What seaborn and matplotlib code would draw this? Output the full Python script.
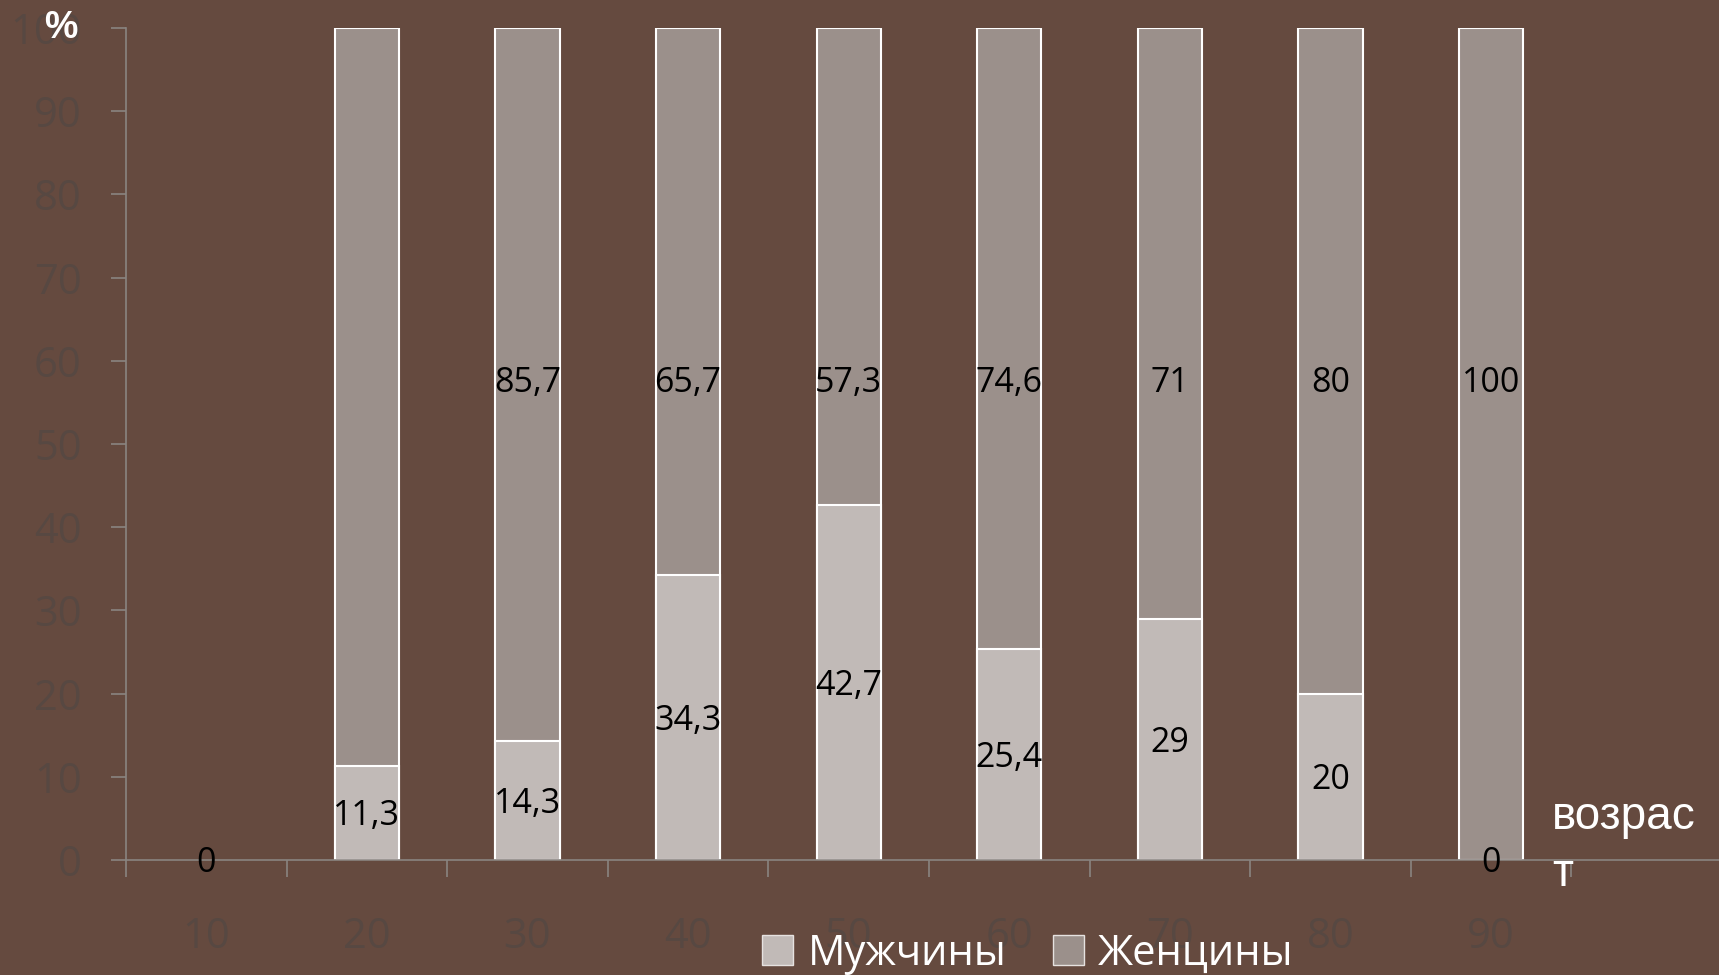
import seaborn as sns
import matplotlib.pyplot as plt
import pandas as pd
from matplotlib.patches import Patch

# Data
ages = ['10', '20', '30', '40', '50', '60', '70', '80', '90']
men = [0, 11.3, 14.3, 34.3, 42.7, 25.4, 29, 20, 0]
women = [0, 88.7, 85.7, 65.7, 57.3, 74.6, 71, 80, 100]
men_labels = ['0', '11,3', '14,3', '34,3', '42,7', '25,4', '29', '20', '0']
women_labels = ['', '', '85,7', '65,7', '57,3', '74,6', '71', '80', '100']
y_ticks = [0, 10, 20, 30, 40, 50, 60, 70, 80, 90, 100]

dataset = pd.DataFrame({'Age': ages, 'Men': men, 'Women': women})
dataset['Total'] = dataset['Men'] + dataset['Women']

bg = '#654a3f'
men_color = '#c1bab7'
women_color = '#9b908b'
dim_text = '#574842'

sns.set_style('white')
plt.rcParams['font.family'] = ['Open Sans', 'DejaVu Sans']

fig = plt.figure(figsize=(17.19, 9.75), dpi=100, facecolor=bg)
ax = fig.add_axes([126 / 1719, 1 - 860 / 975, 1 - 126 / 1719, (860 - 28) / 975])
ax.set_facecolor(bg)

# Stacked bars: women drawn as the total, men drawn over it
sns.barplot(x='Age', y='Total', data=dataset, color=women_color, saturation=1,
            width=0.4, edgecolor='white', linewidth=1.5, ax=ax)
sns.barplot(x='Age', y='Men', data=dataset, color=men_color, saturation=1,
            width=0.4, edgecolor='white', linewidth=1.5, ax=ax)
for p in ax.patches:
    if p.get_height() == 0:
        p.set_visible(False)

# Value labels
for i in range(len(ages)):
    ax.text(i, men[i] / 2 - 0.4, men_labels[i], ha='center', va='center',
            fontsize=24.5, color='black')
    if women_labels[i]:
        ax.text(i, 57.3, women_labels[i], ha='center', va='center',
                fontsize=24.5, color='black')

ax.set_xlim(-0.5, 9.42)
ax.set_ylim(0, 100)
ax.set_yticks(y_ticks)
ax.set_xlabel('')
ax.set_ylabel('')

for s in ['top', 'right']:
    ax.spines[s].set_visible(False)
for s in ['left', 'bottom']:
    ax.spines[s].set_color('#8a8480')
    ax.spines[s].set_linewidth(1.2)

ax.tick_params(axis='y', direction='out', length=11, width=1.2, color='#8a8480',
               labelsize=30, labelcolor=dim_text, pad=21, left=True)
ax.tick_params(axis='x', which='major', length=0, labelsize=30,
               labelcolor=dim_text, pad=40)
ax.set_xticks([i + 0.5 for i in range(-1, 9)], minor=True)
ax.tick_params(axis='x', which='minor', direction='out', length=12, width=1.2,
               color='#8a8480', bottom=True)

# Axis titles
fig.text(44 / 1719, 1 - 28 / 975, '%', color='white', fontsize=27,
         fontweight='bold', family='Liberation Sans', va='center', ha='left')
fig.text(1552 / 1719, 1 - 817 / 975, 'возрас', color='white', fontsize=33,
         family='Liberation Sans', va='center', ha='left')
fig.text(1552 / 1719, 1 - 874 / 975, 'т', color='white', fontsize=33,
         family='Liberation Sans', va='center', ha='left')

# Legend
handles = [Patch(facecolor=men_color, edgecolor='#e6e2e0', label='Мужчины'),
           Patch(facecolor=women_color, edgecolor='#e6e2e0', label='Женцины')]
leg = fig.legend(handles=handles, loc='center', bbox_to_anchor=(1028 / 1719, 0.022),
                 ncol=2, frameon=False, fontsize=30, handlelength=0.75,
                 handleheight=0.75, handletextpad=0.35, columnspacing=1.1,
                 labelcolor='white', borderpad=0)

plt.savefig('out.png', dpi=100, facecolor=bg)
